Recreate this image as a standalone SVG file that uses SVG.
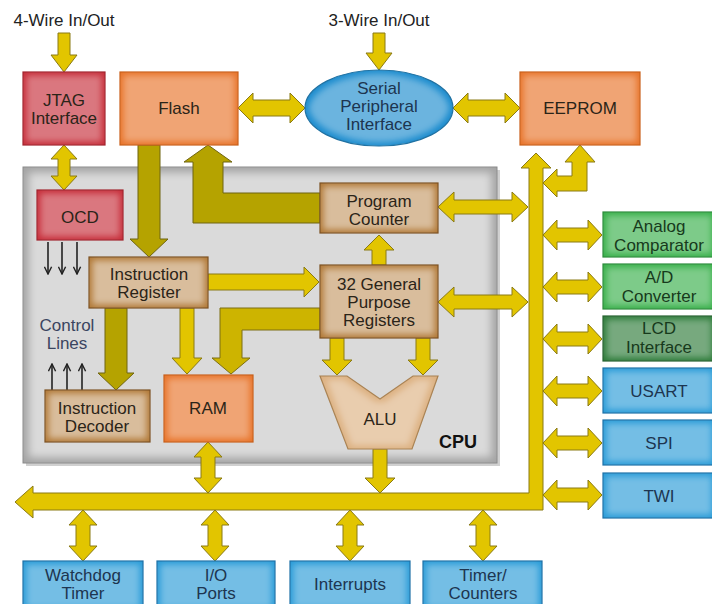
<svg xmlns="http://www.w3.org/2000/svg" width="712" height="604" viewBox="0 0 712 604">
<defs>
<filter id="inset" x="-5%" y="-5%" width="110%" height="110%" color-interpolation-filters="sRGB">
 <feMorphology in="SourceAlpha" operator="erode" radius="4" result="e"/>
 <feGaussianBlur in="e" stdDeviation="3" result="b"/>
 <feFlood flood-color="#ffffff" flood-opacity="0.35"/>
 <feComposite in2="b" operator="in" result="w"/>
 <feComposite in="w" in2="SourceAlpha" operator="in" result="wc"/>
 <feMerge><feMergeNode in="SourceGraphic"/><feMergeNode in="wc"/></feMerge>
</filter>
<filter id="insetB" x="-5%" y="-5%" width="110%" height="110%" color-interpolation-filters="sRGB">
 <feMorphology in="SourceAlpha" operator="erode" radius="4" result="e"/>
 <feGaussianBlur in="e" stdDeviation="3" result="b"/>
 <feFlood flood-color="#ffffff" flood-opacity="0.5"/>
 <feComposite in2="b" operator="in" result="w"/>
 <feComposite in="w" in2="SourceAlpha" operator="in" result="wc"/>
 <feMerge><feMergeNode in="SourceGraphic"/><feMergeNode in="wc"/></feMerge>
</filter>
<filter id="insetBig" x="-5%" y="-5%" width="110%" height="110%" color-interpolation-filters="sRGB">
 <feMorphology in="SourceAlpha" operator="erode" radius="6" result="e"/>
 <feGaussianBlur in="e" stdDeviation="4" result="b"/>
 <feFlood flood-color="#ffffff" flood-opacity="0.6"/>
 <feComposite in2="b" operator="in" result="w"/>
 <feComposite in="w" in2="SourceAlpha" operator="in" result="wc"/>
 <feMerge><feMergeNode in="SourceGraphic"/><feMergeNode in="wc"/></feMerge>
</filter>
<marker id="thin" viewBox="0 0 10 10" refX="9" refY="5" markerWidth="9" markerHeight="9" orient="auto" markerUnits="userSpaceOnUse">
 <path d="M1,1 L9,5 L1,9" fill="none" stroke="#222" stroke-width="1.6"/>
</marker>
<style>
 text{font-family:"Liberation Sans",Arial,Helvetica,sans-serif;font-size:17px;text-anchor:middle;fill:#2b2418}
 .lbl{fill:#222}
 .red{fill:#C72F3B;stroke:#A0222C;stroke-width:1.2;filter:url(#inset)}
 .org{fill:#E8742A;stroke:#C85E18;stroke-width:1.2;filter:url(#inset)}
 .brn{fill:#B27A38;stroke:#7A4E1E;stroke-width:1.2;filter:url(#insetB)}
 .blu{fill:#2A9CD8;stroke:#1C6FA6;stroke-width:1.2;filter:url(#inset)}
 .grn{fill:#38B04A;stroke:#2A8A3A;stroke-width:1.2;filter:url(#inset)}
 .dgrn{fill:#2E7C3A;stroke:#24602E;stroke-width:1.2;filter:url(#inset)}
 .alu{fill:#DDB283;stroke:#A88050;stroke-width:1.2;filter:url(#inset)}
 .tb{fill:#1d3550}
 .tg{fill:#173a1c}
 .ya{fill:#E2C500;stroke:#8A7A14;stroke-width:1}
 .yo{fill:#B5A300;stroke:#6F6410;stroke-width:1}
 .ym{fill:#CDB400;stroke:#7C6E12;stroke-width:1}
 .th{stroke:#222;stroke-width:1.6;fill:none;marker-end:url(#thin)}
</style>
</defs>
<rect width="712" height="604" fill="#ffffff"/>

<g id="cpu">
 <rect x="26" y="170" width="474" height="296" fill="#777" opacity="0.35"/>
 <rect x="23" y="167" width="474" height="296" fill="#A4A4A4" stroke="#8A8A8A" stroke-width="1" filter="url(#insetBig)"/>
 <text x="458" y="448" style="font-weight:bold;font-size:18px;fill:#111">CPU</text>
</g>

<g id="connectors">
 <path class="ya" d="M58,33 L70,33 L70,55 L77,55 L64,72 L51,55 L58,55 Z"/>
 <path class="ya" d="M373,33 L385,33 L385,53 L392,53 L379,70 L366,53 L373,53 Z"/>
 <path class="ya" d="M238,108 L253,93 L253,100 L290,100 L290,93 L305,108 L290,123 L290,116 L253,116 L253,123 Z"/>
 <path class="ya" d="M453,108 L468,93 L468,100 L505,100 L505,93 L520,108 L505,123 L505,116 L468,116 L468,123 Z"/>
 <path class="ya" d="M64,145 L77,159 L70,159 L70,176 L77,176 L64,190 L51,176 L58,176 L58,159 L51,159 Z"/>
 <path class="yo" d="M138,145 L160,145 L160,239 L168,239 L149,257 L130,239 L138,239 Z"/>
 <path class="yo" d="M320,193 L223,193 L223,162 L232,162 L208,145 L184,162 L193,162 L193,223 L320,223 Z"/>
 <path class="ya" d="M208,274 L304,274 L304,267 L319,282 L304,297 L304,290 L208,290 Z"/>
 <path class="ym" d="M320,308 L220,308 L220,358 L212,358 L231,374 L250,358 L242,358 L242,330 L320,330 Z"/>
 <path class="ya" d="M180,308 L194,308 L194,358 L202,358 L187,374 L172,358 L180,358 Z"/>
 <path class="yo" d="M105,308 L127,308 L127,373 L134,373 L116,390 L98,373 L105,373 Z"/>
 <path class="ya" d="M372,265 L386,265 L386,250 L394,250 L379,235 L364,250 L372,250 Z"/>
 <path class="ya" d="M330,338 L344,338 L344,360 L352,360 L337,375 L322,360 L330,360 Z"/>
 <path class="ya" d="M416,338 L430,338 L430,360 L438,360 L423,375 L408,360 L416,360 Z"/>
 <path class="ya" d="M438,207 L454,192 L454,200 L512,200 L512,192 L528,207 L512,222 L512,214 L454,214 L454,222 Z"/>
 <path class="ya" d="M438,302 L454,287 L454,295 L512,295 L512,287 L528,302 L512,317 L512,309 L454,309 L454,317 Z"/>
 <path class="ya" d="M373,449 L387,449 L387,478 L395,478 L380,493 L365,478 L373,478 Z"/>
 <path class="ya" d="M208,442 L222,457 L215,457 L215,478 L222,478 L208,493 L194,478 L201,478 L201,457 L194,457 Z"/>
 <path class="ya" d="M15,502 L33,486 L33,493 L529,493 L529,168 L521,168 L536,153 L551,168 L543,168 L543,510 L33,510 L33,518 Z"/>
 <path class="ya" d="M543,183 L557,169 L557,176 L572,176 L572,162 L565,162 L580,145 L595,162 L587,162 L587,191 L557,191 L557,197 Z"/>
 <path class="ya" d="M543,235 L557,220 L557,228 L588,228 L588,220 L602,235 L588,250 L588,242 L557,242 L557,250 Z"/>
 <path class="ya" d="M543,287 L557,272 L557,280 L588,280 L588,272 L602,287 L588,302 L588,294 L557,294 L557,302 Z"/>
 <path class="ya" d="M543,339 L557,324 L557,332 L588,332 L588,324 L602,339 L588,354 L588,346 L557,346 L557,354 Z"/>
 <path class="ya" d="M543,391 L557,376 L557,384 L588,384 L588,376 L602,391 L588,406 L588,398 L557,398 L557,406 Z"/>
 <path class="ya" d="M543,443 L557,428 L557,436 L588,436 L588,428 L602,443 L588,458 L588,450 L557,450 L557,458 Z"/>
 <path class="ya" d="M543,495 L557,480 L557,488 L588,488 L588,480 L602,495 L588,510 L588,502 L557,502 L557,510 Z"/>
 <path class="ya" d="M83,510 L97,525 L90,525 L90,546 L97,546 L83,561 L69,546 L76,546 L76,525 L69,525 Z"/>
 <path class="ya" d="M215,510 L229,525 L222,525 L222,546 L229,546 L215,561 L201,546 L208,546 L208,525 L201,525 Z"/>
 <path class="ya" d="M350,510 L364,525 L357,525 L357,546 L364,546 L350,561 L336,546 L343,546 L343,525 L336,525 Z"/>
 <path class="ya" d="M483,510 L497,525 L490,525 L490,546 L497,546 L483,561 L469,546 L476,546 L476,525 L469,525 Z"/>
 <line class="th" x1="48" y1="242" x2="48" y2="274"/>
 <line class="th" x1="62" y1="242" x2="62" y2="274"/>
 <line class="th" x1="77" y1="242" x2="77" y2="274"/>
 <line class="th" x1="52" y1="390" x2="52" y2="364"/>
 <line class="th" x1="67" y1="390" x2="67" y2="364"/>
 <line class="th" x1="82" y1="390" x2="82" y2="364"/>
</g>

<text x="64" y="26" class="lbl">4-Wire In/Out</text>
<text x="379" y="26" class="lbl">3-Wire In/Out</text>
<g id="control-lines-label">
 <text x="67" y="331" style="fill:#3a4560">Control</text>
 <text x="67" y="349" style="fill:#3a4560">Lines</text>
</g>

<g id="jtag"><rect class="red" x="23" y="72" width="82" height="73"/><text x="64" y="106">JTAG</text><text x="64" y="124">Interface</text></g>
<g id="flash"><rect class="org" x="120" y="72" width="118" height="73"/><text x="179" y="114">Flash</text></g>
<g id="spi-serial"><ellipse cx="379" cy="108" rx="74" ry="38" fill="#1C8CCE" stroke="#1A6EA0" stroke-width="1.2" filter="url(#inset)"/><text x="379" y="94" class="tb">Serial</text><text x="379" y="112" class="tb">Peripheral</text><text x="379" y="130" class="tb">Interface</text></g>
<g id="eeprom"><rect class="org" x="520" y="72" width="120" height="73"/><text x="580" y="114">EEPROM</text></g>

<g id="ocd"><rect class="red" x="37" y="190" width="86" height="50"/><text x="80" y="223">OCD</text></g>
<g id="program-counter"><rect class="brn" x="320" y="183" width="118" height="50"/><text x="379" y="207">Program</text><text x="379" y="225">Counter</text></g>
<g id="instruction-register"><rect class="brn" x="89" y="257" width="119" height="51"/><text x="149" y="280">Instruction</text><text x="149" y="298">Register</text></g>
<g id="gpr"><rect class="brn" x="320" y="265" width="118" height="73"/><text x="379" y="290">32 General</text><text x="379" y="308">Purpose</text><text x="379" y="326">Registers</text></g>
<g id="instruction-decoder"><rect class="brn" x="45" y="390" width="105" height="52"/><text x="97" y="414">Instruction</text><text x="97" y="432">Decoder</text></g>
<g id="ram"><rect class="org" x="164" y="375" width="89" height="67"/><text x="208" y="414">RAM</text></g>
<g id="alu"><polygon class="alu" points="320,376 347,376 380,399 413,376 438,376 412,449 348,449"/><text x="380" y="425">ALU</text></g>

<g id="analog-comparator"><rect class="grn" x="603" y="212" width="112" height="45"/><text x="659" y="232" class="tg">Analog</text><text x="659" y="251" class="tg">Comparator</text></g>
<g id="ad-converter"><rect class="grn" x="603" y="264" width="112" height="45"/><text x="659" y="283" class="tg">A/D</text><text x="659" y="302" class="tg">Converter</text></g>
<g id="lcd-interface"><rect class="dgrn" x="603" y="316" width="112" height="45"/><text x="659" y="334" class="tg">LCD</text><text x="659" y="353" class="tg">Interface</text></g>
<g id="usart"><rect class="blu" x="603" y="368" width="112" height="45"/><text x="659" y="397" class="tb">USART</text></g>
<g id="spi"><rect class="blu" x="603" y="420" width="112" height="45"/><text x="659" y="449" class="tb">SPI</text></g>
<g id="twi"><rect class="blu" x="603" y="473" width="112" height="45"/><text x="659" y="502" class="tb">TWI</text></g>

<g id="watchdog-timer"><rect class="blu" x="23" y="561" width="120" height="50"/><text x="83" y="581" class="tb">Watchdog</text><text x="83" y="599" class="tb">Timer</text></g>
<g id="io-ports"><rect class="blu" x="157" y="561" width="118" height="50"/><text x="216" y="581" class="tb">I/O</text><text x="216" y="599" class="tb">Ports</text></g>
<g id="interrupts"><rect class="blu" x="290" y="561" width="120" height="50"/><text x="350" y="590" class="tb">Interrupts</text></g>
<g id="timer-counters"><rect class="blu" x="423" y="561" width="119" height="50"/><text x="483" y="581" class="tb">Timer/</text><text x="483" y="599" class="tb">Counters</text></g>
</svg>
